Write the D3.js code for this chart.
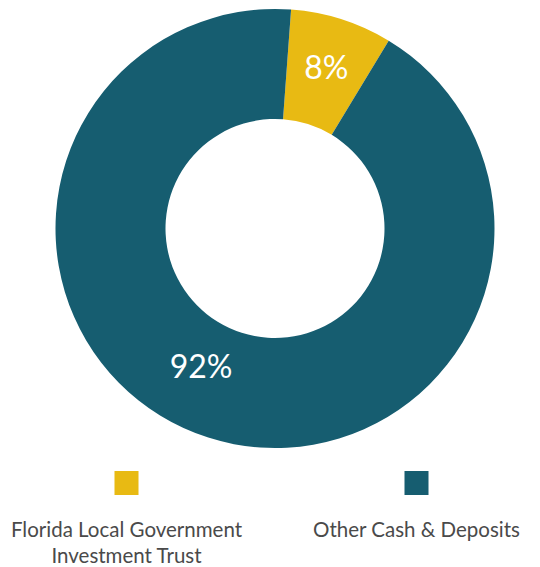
<!DOCTYPE html>
<html>
<head>
<meta charset="utf-8">
<script src="https://cdn.jsdelivr.net/npm/d3@7"></script>
<style>
  html, body { margin: 0; padding: 0; background: #fff; }
  svg { display: block; }
</style>
</head>
<body>
<svg id="chart" width="540" height="567"></svg>
<script>
const categories = ["Florida Local Government|Investment Trust", "Other Cash & Deposits"];
const values = [7.5, 92.5];
const valueLabels = ["8%", "92%"];
const colors = ["#E8BA13", "#165D70"];

const W = 540, H = 567;
const cx = 275, cy = 228.5, R = 219.5, r0 = 109.5;
const startDeg = 4.2;

const svg = d3.select("#chart");
const g = svg.append("g").attr("transform", `translate(${cx},${cy})`);

const pie = d3.pie().sort(null).value(d => d)
  .startAngle(startDeg * Math.PI / 180)
  .endAngle(startDeg * Math.PI / 180 + 2 * Math.PI);
const arcs = pie(values);
const arc = d3.arc().innerRadius(r0).outerRadius(R);

g.selectAll("path.slice").data(arcs).enter().append("path")
  .attr("class", "slice")
  .attr("d", arc)
  .attr("fill", (d, i) => colors[i]);

// label placement (radius / angle shift per label, as in the reference)
const labelR = [169, 157];
const labelAngleShift = [0, 10.4 * Math.PI / 180];
const midA = (d, i) => (d.startAngle + d.endAngle) / 2 + labelAngleShift[i];
g.selectAll("text.val").data(arcs).enter().append("text")
  .attr("class", "val")
  .attr("x", (d, i) => labelR[i] * Math.sin(midA(d, i)))
  .attr("y", (d, i) => -labelR[i] * Math.cos(midA(d, i)))
  .attr("dy", "0.35em")
  .attr("text-anchor", "middle")
  .attr("fill", "#ffffff")
  .style("font-family", "Lato, 'Open Sans', sans-serif")
  .style("font-size", "32px")
  .style("font-weight", 400)
  .text((d, i) => valueLabels[i]);

// legend
const legendX = d3.scalePoint().domain(categories).range([126.5, 416.5]);
const lg = svg.append("g");
const items = lg.selectAll("g.item").data(categories).enter().append("g")
  .attr("class", "item")
  .attr("transform", d => `translate(${legendX(d)},0)`);
items.append("rect")
  .attr("x", -12).attr("y", 471).attr("width", 24).attr("height", 24)
  .attr("fill", (d, i) => colors[i]);
items.append("text")
  .attr("text-anchor", "middle")
  .attr("fill", "#4a4a4a")
  .style("font-family", "Lato, 'Open Sans', sans-serif")
  .style("font-size", "20.5px")
  .style("font-weight", 400)
  .each(function(d) {
    const lines = d.split("|");
    const t = d3.select(this);
    lines.forEach((ln, k) => {
      t.append("tspan").attr("x", 0).attr("y", 537 + k * 26).text(ln);
    });
  });
</script>
</body>
</html>
